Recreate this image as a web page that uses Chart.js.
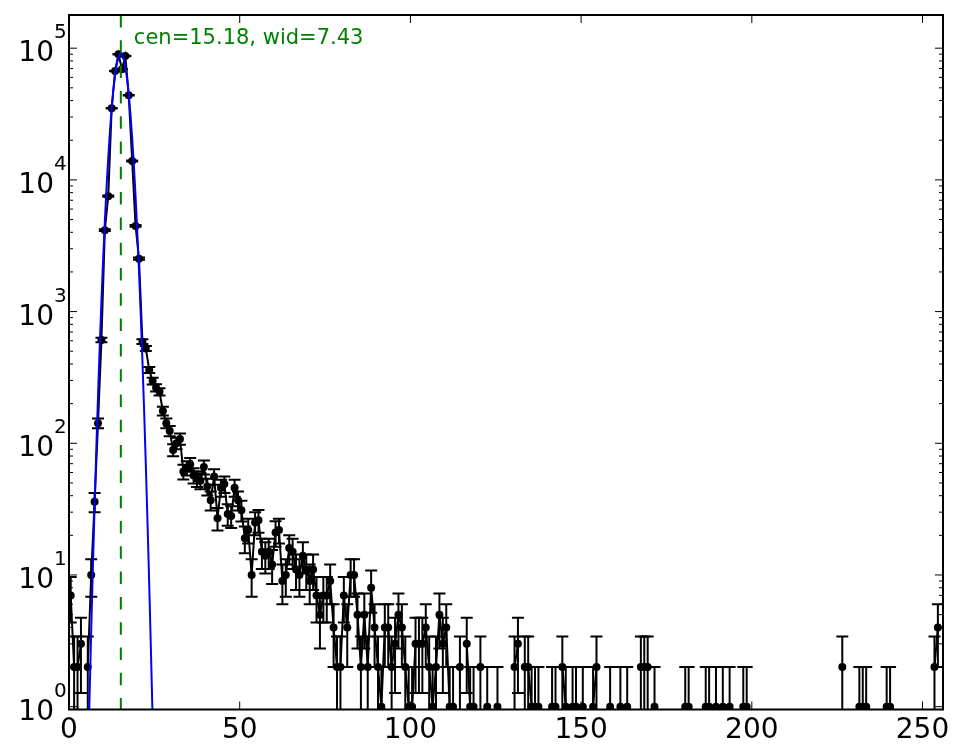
<!DOCTYPE html>
<html>
<head>
<meta charset="utf-8">
<title>Histogram with gaussian fit</title>
<script src="https://cdn.jsdelivr.net/npm/chart.js@4.4.1/dist/chart.umd.min.js"></script>
<style>
    html, body { margin: 0; padding: 0; background: #fff; }
    #wrap { width: 965px; height: 756px; }
</style>
</head>
<body>
<div id="wrap"><canvas id="histChart"></canvas></div>
<script>
// Counts per bin (bin width 1, bin i is centred on i + 0.5), zero bins are not drawn
const counts = [
    7, 2, 2, 3, 0, 2, 10, 36, 142, 609, 4150, 7520, 35000, 67100, 89900, 69100,
    87300, 43900, 13900, 4470, 2520, 591, 525, 360, 297, 264, 246, 176, 142, 124, 89, 100,
    108, 61, 65, 69, 57, 54, 52, 66, 47, 37, 56, 27, 46, 49, 29, 28,
    46, 37, 31, 19, 22, 10, 25, 26, 15, 14, 15, 12, 21, 22, 9, 10,
    16, 15, 11, 10, 14, 11, 9, 11, 7, 5, 7, 7, 9, 4, 2, 2,
    7, 4, 10, 10, 5, 2, 5, 2, 8, 4, 2, 1, 4, 4, 2, 3,
    5, 4, 2, 1, 1, 3, 3, 3, 4, 2, 1, 2, 5, 3, 4, 1,
    1, 0, 2, 0, 3, 1, 1, 0, 2, 0, 1, 0, 0, 1, 0, 0,
    0, 0, 2, 3, 0, 2, 2, 1, 1, 1, 0, 0, 0, 1, 1, 0,
    2, 1, 0, 1, 1, 0, 1, 0, 0, 1, 2, 0, 0, 0, 1, 0,
    0, 1, 0, 1, 0, 0, 0, 2, 2, 2, 0, 1, 0, 0, 0, 0,
    0, 0, 0, 0, 1, 1, 0, 0, 0, 0, 1, 1, 0, 1, 0, 1,
    0, 1, 0, 0, 0, 1, 1, 0, 0, 0, 0, 0, 0, 0, 0, 0,
    0, 0, 0, 0, 0, 0, 0, 0, 0, 0, 0, 0, 0, 0, 0, 0,
    0, 0, 2, 0, 0, 0, 0, 1, 1, 1, 0, 0, 0, 0, 0, 1,
    1, 0, 0, 0, 0, 0, 0, 0, 0, 0, 0, 0, 0, 2, 4, 0
];
const binCenters = counts.map((n, i) => i + 0.5);

// Fitted gaussian
const fitX = [5.5, 6, 6.5, 7, 7.5, 8, 8.5, 9, 9.5, 10, 10.5, 11, 11.5, 12, 12.5, 13, 13.5, 14, 14.5, 15,
              15.5, 16, 16.5, 17, 17.5, 18, 18.5, 19, 19.5, 20, 20.5, 21, 21.5, 22, 22.5, 23, 23.5, 24, 24.5, 25];
const fitY = [0.315, 1.12, 3.72, 11.5, 33.4, 90.4, 229, 543, 1205, 2500, 4840, 8770, 14860, 23550, 34900, 48350, 62640, 75900, 86000, 91100,
              90260, 83600, 72400, 58660, 44430, 31470, 20840, 12900, 7475, 4045, 2049, 970, 430, 178, 68.8, 24.9, 8.4, 2.67, 0.79, 0.22];

const xTicks = [0, 50, 100, 150, 200, 250];
const yExponents = [0, 1, 2, 3, 4, 5];

const fitCenter = 15.18;
const fitLabel = 'cen=15.18, wid=7.43';
const labelPos = { x: 19.0, y: 1.07e5 };

const FONT = 'DejaVu Sans';
const CAP = 6;

// Error bars, centre line, label, frame and inward ticks
const histExtras = {
    id: 'histExtras',
    afterDatasetDraw(chart, args) {
        if (args.index !== 0) return;
        const { ctx, chartArea: area, scales: { x, y } } = chart;
        ctx.save();
        ctx.beginPath();
        ctx.rect(area.left, area.top, area.right - area.left, area.bottom - area.top);
        ctx.clip();
        ctx.strokeStyle = '#000';
        ctx.lineWidth = 2;
        counts.forEach((n, i) => {
            if (n <= 0) return;
            const px = x.getPixelForValue(binCenters[i]);
            const err = Math.sqrt(n);
            const top = y.getPixelForValue(n + err);
            const low = n - err;
            const bottom = low > 0 ? y.getPixelForValue(low) : area.bottom + 5;
            ctx.beginPath();
            ctx.moveTo(px, top);
            ctx.lineTo(px, bottom);
            ctx.moveTo(px - CAP, top);
            ctx.lineTo(px + CAP, top);
            if (low > 0) {
                ctx.moveTo(px - CAP, bottom);
                ctx.lineTo(px + CAP, bottom);
            }
            ctx.stroke();
        });
        ctx.restore();
    },
    afterDatasetsDraw(chart) {
        const { ctx, chartArea: area, scales: { x, y } } = chart;
        // dashed line at the fitted centre
        const cx = x.getPixelForValue(fitCenter);
        ctx.save();
        ctx.strokeStyle = '#008000';
        ctx.lineWidth = 2;
        ctx.setLineDash([12.5, 12.8]);
        ctx.beginPath();
        ctx.moveTo(cx, area.top);
        ctx.lineTo(cx, area.bottom);
        ctx.stroke();
        ctx.setLineDash([]);
        // fit result text
        ctx.fillStyle = '#008000';
        ctx.font = `21px "${FONT}"`;
        ctx.textAlign = 'left';
        ctx.textBaseline = 'alphabetic';
        ctx.fillText(fitLabel, x.getPixelForValue(labelPos.x), y.getPixelForValue(labelPos.y));
        ctx.restore();
    },
    afterDraw(chart) {
        const { ctx, chartArea: area, scales: { x, y } } = chart;
        ctx.save();
        ctx.strokeStyle = '#000';
        ctx.lineWidth = 1;
        ctx.beginPath();
        // x ticks, bottom and top
        xTicks.forEach(v => {
            const px = x.getPixelForValue(v);
            ctx.moveTo(px, area.bottom);
            ctx.lineTo(px, area.bottom - 8);
            ctx.moveTo(px, area.top);
            ctx.lineTo(px, area.top + 8);
        });
        // y ticks, major and minor, left and right
        yExponents.forEach(d => {
            for (let m = 1; m <= 9; m++) {
                const v = m * Math.pow(10, d);
                if (v < y.min || v > y.max) continue;
                const py = y.getPixelForValue(v);
                const len = m === 1 ? 8 : 4;
                ctx.moveTo(area.left, py);
                ctx.lineTo(area.left + len, py);
                ctx.moveTo(area.right, py);
                ctx.lineTo(area.right - len, py);
            }
        });
        ctx.stroke();

        // frame
        ctx.lineWidth = 2;
        ctx.strokeRect(area.left, area.top, area.right - area.left, area.bottom - area.top);

        // y tick labels as 10 with a raised exponent
        ctx.fillStyle = '#000';
        ctx.textBaseline = 'alphabetic';
        yExponents.forEach(d => {
            const py = y.getPixelForValue(Math.pow(10, d));
            ctx.font = `28px "${FONT}"`;
            ctx.textAlign = 'right';
            ctx.fillText('10', area.left - 15, py + 13);
            ctx.font = `20px "${FONT}"`;
            ctx.textAlign = 'left';
            ctx.fillText(String(d), area.left - 15, py - 10);
        });
        ctx.restore();
    }
};

const dataPoints = counts.map((n, i) => ({ x: binCenters[i], y: n > 0 ? n : null }));
const fitPoints = fitX.map((v, i) => ({ x: v, y: fitY[i] }));

new Chart(document.getElementById('histChart'), {
    type: 'scatter',
    data: {
        datasets: [
            {
                label: 'counts',
                data: dataPoints,
                showLine: true,
                spanGaps: false,
                borderColor: '#000',
                borderWidth: 2,
                pointRadius: 4,
                pointBackgroundColor: '#000',
                pointBorderWidth: 0,
                order: 2
            },
            {
                label: 'fit',
                data: fitPoints,
                showLine: true,
                borderColor: '#0000ff',
                borderWidth: 2,
                pointRadius: 0,
                order: 1
            }
        ]
    },
    options: {
        responsive: true,
        maintainAspectRatio: false,
        animation: false,
        layout: { padding: { top: 15, right: 22, left: 0, bottom: 0 } },
        plugins: {
            legend: { display: false },
            tooltip: { enabled: false }
        },
        scales: {
            x: {
                type: 'linear',
                min: 0,
                max: 256,
                grid: { display: false, drawTicks: false },
                border: { display: false },
                afterBuildTicks: s => { s.ticks = xTicks.map(v => ({ value: v })); },
                afterFit: s => { s.height = 46.5; },
                ticks: {
                    color: '#000',
                    font: { family: FONT, size: 28 },
                    padding: 4,
                    maxRotation: 0,
                    autoSkip: false
                }
            },
            y: {
                type: 'logarithmic',
                min: 0.952,
                max: 178600,
                grid: { display: false, drawTicks: false },
                border: { display: false },
                ticks: { display: false },
                afterFit: s => { s.width = 69; }
            }
        }
    },
    plugins: [histExtras]
});
</script>
</body>
</html>
